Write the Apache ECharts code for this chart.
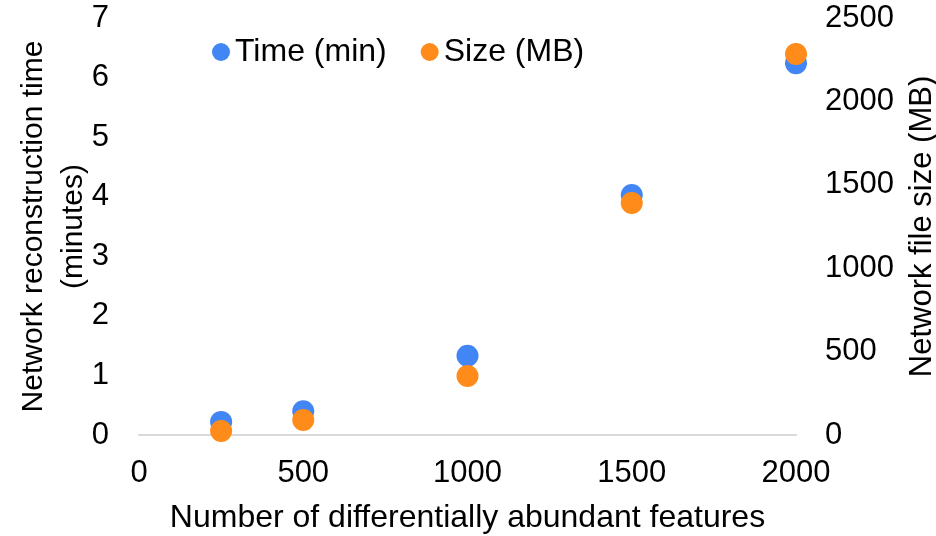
<!DOCTYPE html>
<html><head><meta charset="utf-8">
<script src="https://cdn.jsdelivr.net/npm/echarts@6/dist/echarts.min.js"></script>
<style>html,body{margin:0;padding:0;background:#fff}#c{width:936px;height:536px}</style>
</head><body><div id="c"></div>
<script>
const features = [250, 500, 1000, 1500, 2000];
const timeMin = [0.22, 0.40, 1.33, 4.03, 6.24];
const sizeMB = [24, 90, 354, 1391, 2284];
const xTicks = [0, 500, 1000, 1500, 2000];

const font = 'Liberation Sans, Arial, sans-serif';
const plain = v => String(v);
const chart = echarts.init(document.getElementById('c'));
chart.setOption({
  animation: false,
  textStyle: { fontFamily: font },
  grid: { left: 139, right: 140, top: 18, bottom: 101, outerBoundsMode: 'none', containLabel: false },
  legend: {
    left: 207, top: 31, itemWidth: 18, itemHeight: 18, itemGap: 34, icon: 'circle',
    textStyle: { fontSize: 32, color: '#000', fontFamily: font },
    data: ['Time (min)', 'Size (MB)']
  },
  xAxis: {
    type: 'value', min: xTicks[0], max: xTicks[xTicks.length - 1], interval: 500,
    name: 'Number of differentially abundant features', nameLocation: 'middle', nameGap: 67,
    nameMoveOverlap: false,
    nameTextStyle: { fontSize: 32, color: '#000', fontFamily: font },
    axisLine: { show: true, lineStyle: { color: '#d9d9d9', width: 2 } },
    axisTick: { show: false }, splitLine: { show: false },
    axisLabel: { fontSize: 31, color: '#000', margin: 23, fontFamily: font, formatter: plain }
  },
  yAxis: [{
    type: 'value', min: 0, max: 7, interval: 1, position: 'left',
    name: 'Network reconstruction time\n(minutes)', nameLocation: 'middle', nameRotate: 90, nameGap: 45,
    nameMoveOverlap: false,
    nameTextStyle: { fontSize: 30, color: '#000', lineHeight: 40, fontFamily: font },
    axisLine: { show: false }, axisTick: { show: false }, splitLine: { show: false },
    axisLabel: { fontSize: 31, color: '#000', margin: 30, fontFamily: font, formatter: plain }
  }, {
    type: 'value', min: 0, max: 2500, interval: 500, position: 'right',
    name: 'Network file size (MB)', nameLocation: 'middle', nameRotate: 90, nameGap: 111,
    nameMoveOverlap: false,
    nameTextStyle: { fontSize: 31, color: '#000', fontFamily: font },
    axisLine: { show: false }, axisTick: { show: false }, splitLine: { show: false },
    axisLabel: { fontSize: 31, color: '#000', margin: 29, fontFamily: font, formatter: plain }
  }],
  series: [{
    name: 'Time (min)', type: 'scatter', yAxisIndex: 0, symbolSize: 22,
    itemStyle: { color: '#4285f4', opacity: 1 },
    data: features.map((f, i) => [f, timeMin[i]])
  }, {
    name: 'Size (MB)', type: 'scatter', yAxisIndex: 1, symbolSize: 22,
    itemStyle: { color: '#ff8c1a', opacity: 1 },
    data: features.map((f, i) => [f, sizeMB[i]])
  }]
});
</script></body></html>
